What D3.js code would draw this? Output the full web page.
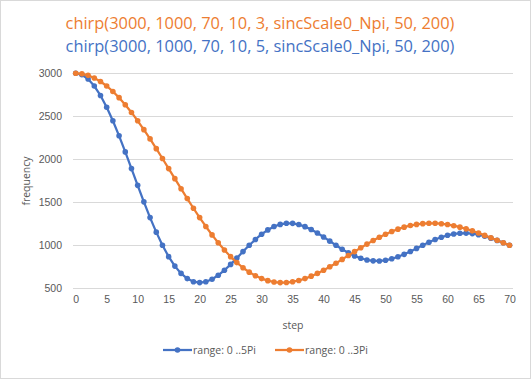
<!DOCTYPE html>
<html><head><meta charset="utf-8">
<script src="https://cdn.jsdelivr.net/npm/d3@7"></script>
<style>html,body{margin:0;padding:0;background:#fff;}svg{display:block;font-family:"Open Sans","Noto Sans",sans-serif;}</style>
</head><body>
<svg id="c" width="531" height="379"></svg>
<script>
const steps = d3.range(0, 71);
const blueValues = [3000,2983,2934,2852,2742,2606,2448,2273,2086,1892,1697,1505,1322,1153,1000,868,758,673,613,577,566,576,605,651,710,778,851,927,1000,1068,1129,1179,1218,1243,1256,1255,1241,1217,1183,1143,1097,1048,1000,954,912,877,849,829,819,818,826,843,866,895,928,964,1000,1035,1067,1094,1116,1132,1140,1142,1136,1124,1106,1083,1057,1029,1000];
const orangeValues = [3000,2994,2976,2946,2905,2852,2789,2717,2635,2545,2448,2345,2237,2124,2009,1892,1775,1658,1543,1431,1322,1219,1121,1029,945,868,799,739,688,646,613,589,573,566,567,576,591,613,641,673,710,750,792,836,881,927,971,1014,1055,1094,1129,1161,1188,1211,1230,1243,1252,1256,1256,1251,1241,1228,1211,1191,1168,1143,1115,1087,1058,1029,1000];
const xTicks = [0,5,10,15,20,25,30,35,40,45,50,55,60,65,70];
const yTicks = [500,1000,1500,2000,2500,3000];
const titles = ["chirp(3000, 1000, 70, 10, 3, sincScale0_Npi, 50, 200)", "chirp(3000, 1000, 70, 10, 5, sincScale0_Npi, 50, 200)"];
const seriesNames = ["range: 0 ..5Pi", "range: 0 ..3Pi"];
const colors = ["#4472C4", "#ED7D31"];

const svg = d3.select("#c");
svg.append("rect").attr("x",0.5).attr("y",0.5).attr("width",530).attr("height",378)
  .attr("fill","#fff").attr("stroke","#d9d9d9");

const x = d3.scaleLinear().domain([0,70]).range([75.7,509.5]);
const y = d3.scaleLinear().domain([500,3000]).range([288.3,73.3]);
const gridX0 = 73, gridX1 = 513;

// gridlines
svg.append("g").selectAll("line").data(yTicks).join("line")
  .attr("x1",gridX0).attr("x2",gridX1)
  .attr("y1",d=>Math.round(y(d))+0.5).attr("y2",d=>Math.round(y(d))+0.5)
  .attr("stroke","#d9d9d9").attr("stroke-width",1);

// y axis labels
const yAxis = d3.axisLeft(y).tickValues(yTicks).tickSize(0).tickPadding(0).tickFormat(d3.format("d"));
const gy = svg.append("g").attr("transform","translate(62,0)").call(yAxis);
gy.select(".domain").remove();
gy.selectAll("text").attr("fill","#595959").attr("font-size","10.5px").attr("dy","0.35em");

// x axis labels
const xAxis = d3.axisBottom(x).tickValues(xTicks).tickSize(0).tickPadding(0);
const gx = svg.append("g").attr("transform","translate(0,296)").call(xAxis);
gx.select(".domain").remove();
gx.selectAll("text").attr("fill","#595959").attr("font-size","10.5px").attr("dy","0.71em");

// axis titles
svg.append("text").attr("x",293).attr("y",329).attr("text-anchor","middle")
  .attr("fill","#595959").attr("font-size","10.5px").text("step");
svg.append("text").attr("transform","translate(30,181) rotate(-90)").attr("text-anchor","middle")
  .attr("fill","#595959").attr("font-size","10.5px").text("frequency");

// titles
svg.append("text").attr("x",260).attr("y",29).attr("text-anchor","middle")
  .attr("fill",colors[1]).attr("font-size","16.4px").text(titles[0]);
svg.append("text").attr("x",260).attr("y",52).attr("text-anchor","middle")
  .attr("fill",colors[0]).attr("font-size","16.4px").text(titles[1]);

// series
const series = [blueValues, orangeValues];
const line = d3.line().x((d,i)=>x(steps[i])).y(d=>y(d));
series.forEach((vals,k)=>{
  const g = svg.append("g");
  g.append("path").attr("d",line(vals)).attr("fill","none")
    .attr("stroke",colors[k]).attr("stroke-width",2.25).attr("stroke-linejoin","round");
  g.selectAll("circle").data(vals).join("circle")
    .attr("cx",(d,i)=>x(steps[i])).attr("cy",d=>y(d)).attr("r",2.8)
    .attr("fill",colors[k]);
});

// legend
const legX = [163, 275];
seriesNames.forEach((name,k)=>{
  const g = svg.append("g").attr("transform",`translate(${legX[k]},350)`);
  g.append("line").attr("x1",0).attr("x2",29).attr("y1",0).attr("y2",0)
    .attr("stroke",colors[k]).attr("stroke-width",2.25);
  g.append("circle").attr("cx",14.5).attr("cy",0).attr("r",2.8).attr("fill",colors[k]);
  g.append("text").attr("x",30).attr("y",0).attr("dy","0.35em")
    .attr("fill","#595959").attr("font-size","10.5px").text(name);
});
</script>
</body></html>
